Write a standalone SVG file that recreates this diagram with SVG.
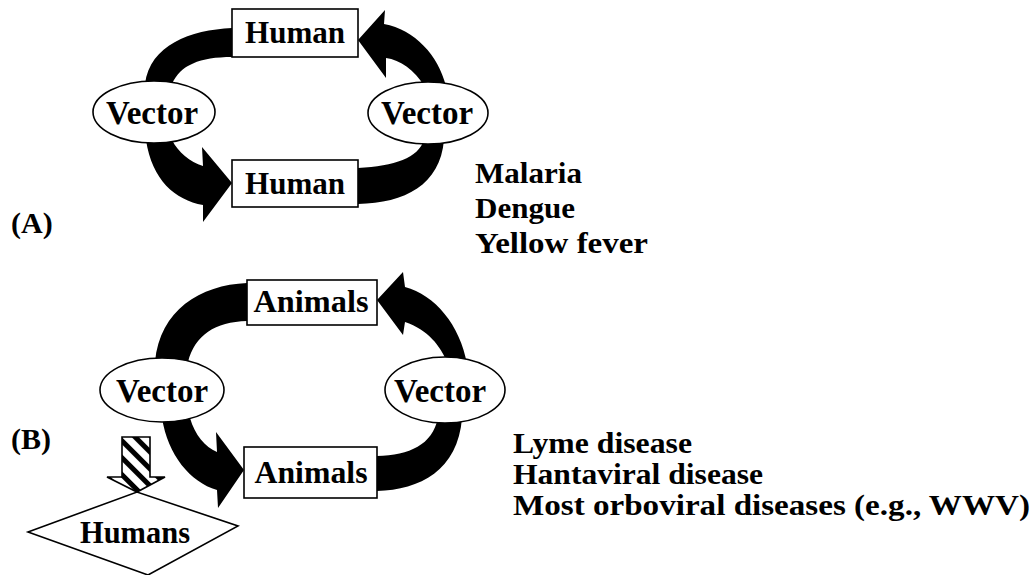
<svg xmlns="http://www.w3.org/2000/svg" width="1033" height="575" viewBox="0 0 1033 575">
<defs>
<pattern id="hatch" patternUnits="userSpaceOnUse" width="12" height="12" patternTransform="rotate(-45)">
<rect x="0" y="0" width="12" height="12" fill="#fff"/>
<rect x="0" y="0" width="5" height="12" fill="#000"/>
</pattern>
</defs>
<style>
.t{font-family:"Liberation Serif","Times New Roman",serif;font-weight:bold;fill:#000;}
.n{font-size:31px;text-anchor:middle;}
.d{font-size:30px;}
.box{fill:#fff;stroke:#000;stroke-width:1.6;}
.band{fill:#000;stroke:none;}
</style>
<rect width="1033" height="575" fill="#fff"/>
<g id="connectors">
<path class="band" d="M145,84 C150,45 190,30 232,28 L232,57 C200,57 180,65 172,84 Z"/>
<path class="band" d="M358,40 L385,10 L384,24 C415,30 438,55 446,86 L424,86 C415,70 400,60 386,58 L386,78 Z"/>
<path class="band" d="M232,183 L203,222 L203,205 C175,200 152,180 146,140 L172,140 C178,152 190,162 203,166 L202,147 Z"/>
<path class="band" d="M358,168 C395,166 418,158 424,140 L444,140 C440,185 405,203 358,204 Z"/>
<path class="band" d="M155,362 C160,310 200,285 247,283 L247,321 C215,322 195,335 188,362 Z"/>
<path class="band" d="M377,300 L403,272 L405,287 C435,295 460,325 467,364 L448,364 C440,345 428,330 405,322 L403,335 Z"/>
<path class="band" d="M244,470 L218,508 L217,490 C190,482 168,455 162,418 L190,418 C195,435 205,447 217,452 L216,432 Z"/>
<path class="band" d="M377,456 C410,455 432,445 438,418 L462,418 C458,470 420,490 377,491 Z"/>
<path id="hatched-arrow" d="M122,437 L150,437 L150,477 L165,477 L137,492 L107,477 L122,477 Z" fill="url(#hatch)" stroke="#000" stroke-width="1.6" stroke-linejoin="miter"/>
</g>
<g id="human-top-a"><rect class="box" x="232" y="9" width="126" height="48"/><text class="t n" x="295" y="43" textLength="100" lengthAdjust="spacingAndGlyphs">Human</text></g>
<g id="human-bottom-a"><rect class="box" x="232" y="160" width="126" height="47"/><text class="t n" x="295" y="194" textLength="100" lengthAdjust="spacingAndGlyphs">Human</text></g>
<g id="vector-left-a"><ellipse class="box" cx="154" cy="112" rx="61" ry="31"/><text class="t n" x="152" y="124" font-size="33" style="font-size:33px">Vector</text></g>
<g id="vector-right-a"><ellipse class="box" cx="428" cy="113" rx="60" ry="31"/><text class="t n" x="427" y="124" style="font-size:33px">Vector</text></g>
<g id="animals-top-b"><rect class="box" x="247" y="280" width="130" height="45"/><text class="t n" x="311" y="312" textLength="115" lengthAdjust="spacingAndGlyphs">Animals</text></g>
<g id="animals-bottom-b"><rect class="box" x="244" y="447" width="133" height="51"/><text class="t n" x="311" y="483" textLength="113" lengthAdjust="spacingAndGlyphs">Animals</text></g>
<g id="vector-left-b"><ellipse class="box" cx="162" cy="390" rx="62" ry="32"/><text class="t n" x="162" y="402" style="font-size:33px">Vector</text></g>
<g id="vector-right-b"><ellipse class="box" cx="445" cy="390" rx="60" ry="33"/><text class="t n" x="440" y="402" style="font-size:33px">Vector</text></g>
<g id="humans"><polygon class="box" points="28,532 137,492 238,526 148,575"/><text class="t n" x="135" y="543" textLength="110" lengthAdjust="spacingAndGlyphs">Humans</text></g>
<g id="label-a"><text class="t d" x="11" y="233">(A)</text></g>
<g id="label-b"><text class="t d" x="11" y="449">(B)</text></g>
<g id="diseases-a">
<text class="t d" x="475" y="183" textLength="107" lengthAdjust="spacingAndGlyphs">Malaria</text>
<text class="t d" x="475" y="218" textLength="100" lengthAdjust="spacingAndGlyphs">Dengue</text>
<text class="t d" x="475" y="253" textLength="173" lengthAdjust="spacingAndGlyphs">Yellow  fever</text>
</g>
<g id="diseases-b">
<text class="t d" x="513" y="453" textLength="179" lengthAdjust="spacingAndGlyphs">Lyme  disease</text>
<text class="t d" x="513" y="484" textLength="250" lengthAdjust="spacingAndGlyphs">Hantaviral  disease</text>
<text class="t d" x="513" y="515" textLength="517" lengthAdjust="spacingAndGlyphs">Most  orboviral  diseases  (e.g.,  WWV)</text>
</g>
</svg>
